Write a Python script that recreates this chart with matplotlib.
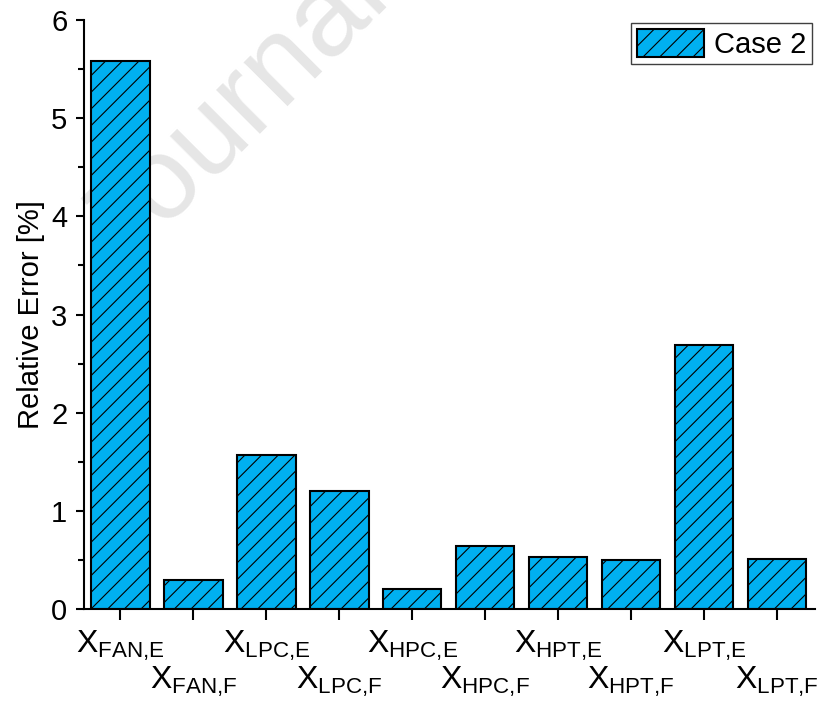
import numpy as np
import matplotlib
matplotlib.use("Agg")
import matplotlib.pyplot as plt

plt.rcParams['font.family'] = ['Liberation Sans', 'DejaVu Sans']
plt.rcParams['mathtext.fontset'] = 'custom'
plt.rcParams['mathtext.rm'] = 'Liberation Sans'
plt.rcParams['mathtext.it'] = 'Liberation Sans:italic'
plt.rcParams['hatch.linewidth'] = 0.8

# relative error per scaling factor
names = ['FAN{,}E', 'FAN{,}F', 'LPC{,}E', 'LPC{,}F', 'HPC{,}E',
         'HPC{,}F', 'HPT{,}E', 'HPT{,}F', 'LPT{,}E', 'LPT{,}F']
case2 = [5.58, 0.30, 1.57, 1.20, 0.20, 0.645, 0.53, 0.50, 2.69, 0.51]
labels = [r'$\mathregular{X_{%s}}$' % n for n in names]

fig = plt.figure(figsize=(8.2, 7.01), dpi=100)
ax = fig.add_axes([0.1024, 0.1312, 0.8915, 0.8403])
ax.patch.set_facecolor('none')

# faint watermark behind the plot
fig.text(122 / 820, 1 - 272 / 701, 'Journal Pre-proof', fontsize=84,
         color='#e6e6e6', rotation=45, rotation_mode='anchor',
         ha='left', va='baseline', zorder=-1)

x = np.arange(len(case2))
ax.bar(x, case2, width=0.8, color='#00B0F0', edgecolor='black',
       linewidth=1.5, hatch='//', label='Case 2')

ax.set_xlim(-0.5, 9.52)
ax.set_ylim(0, 6)
ax.set_xticks(x)
ax.set_xticklabels(labels, fontsize=23)
ax.set_yticks(np.arange(0, 7, 1))
ax.set_yticks(np.arange(0.5, 6, 1), minor=True)
ax.tick_params(axis='y', labelsize=21)

for s in ['top', 'right']:
    ax.spines[s].set_visible(False)
for s in ['left', 'bottom']:
    ax.spines[s].set_linewidth(1.5)

ax.tick_params(axis='both', which='major', direction='out', width=1.5)
ax.tick_params(axis='x', which='major', length=8, pad=6)
ax.tick_params(axis='y', which='major', length=6, pad=6)
ax.tick_params(axis='y', which='minor', direction='out', length=4, width=1.5)

# stagger the odd labels onto a second row
for i, t in enumerate(ax.xaxis.get_major_ticks()):
    if i % 2:
        t.set_pad(6 + 26)

ax.set_ylabel('Relative Error [%]', fontsize=21, labelpad=4)

leg = ax.legend(loc='upper right', fontsize=21, frameon=True, fancybox=False,
                handlelength=2.3, handleheight=1.1, handletextpad=0.35,
                borderpad=0.2, borderaxespad=0.1, framealpha=1)
leg.get_frame().set_edgecolor('#404040')
leg.get_frame().set_linewidth(1.0)

fig.savefig('out.png', dpi=100)
